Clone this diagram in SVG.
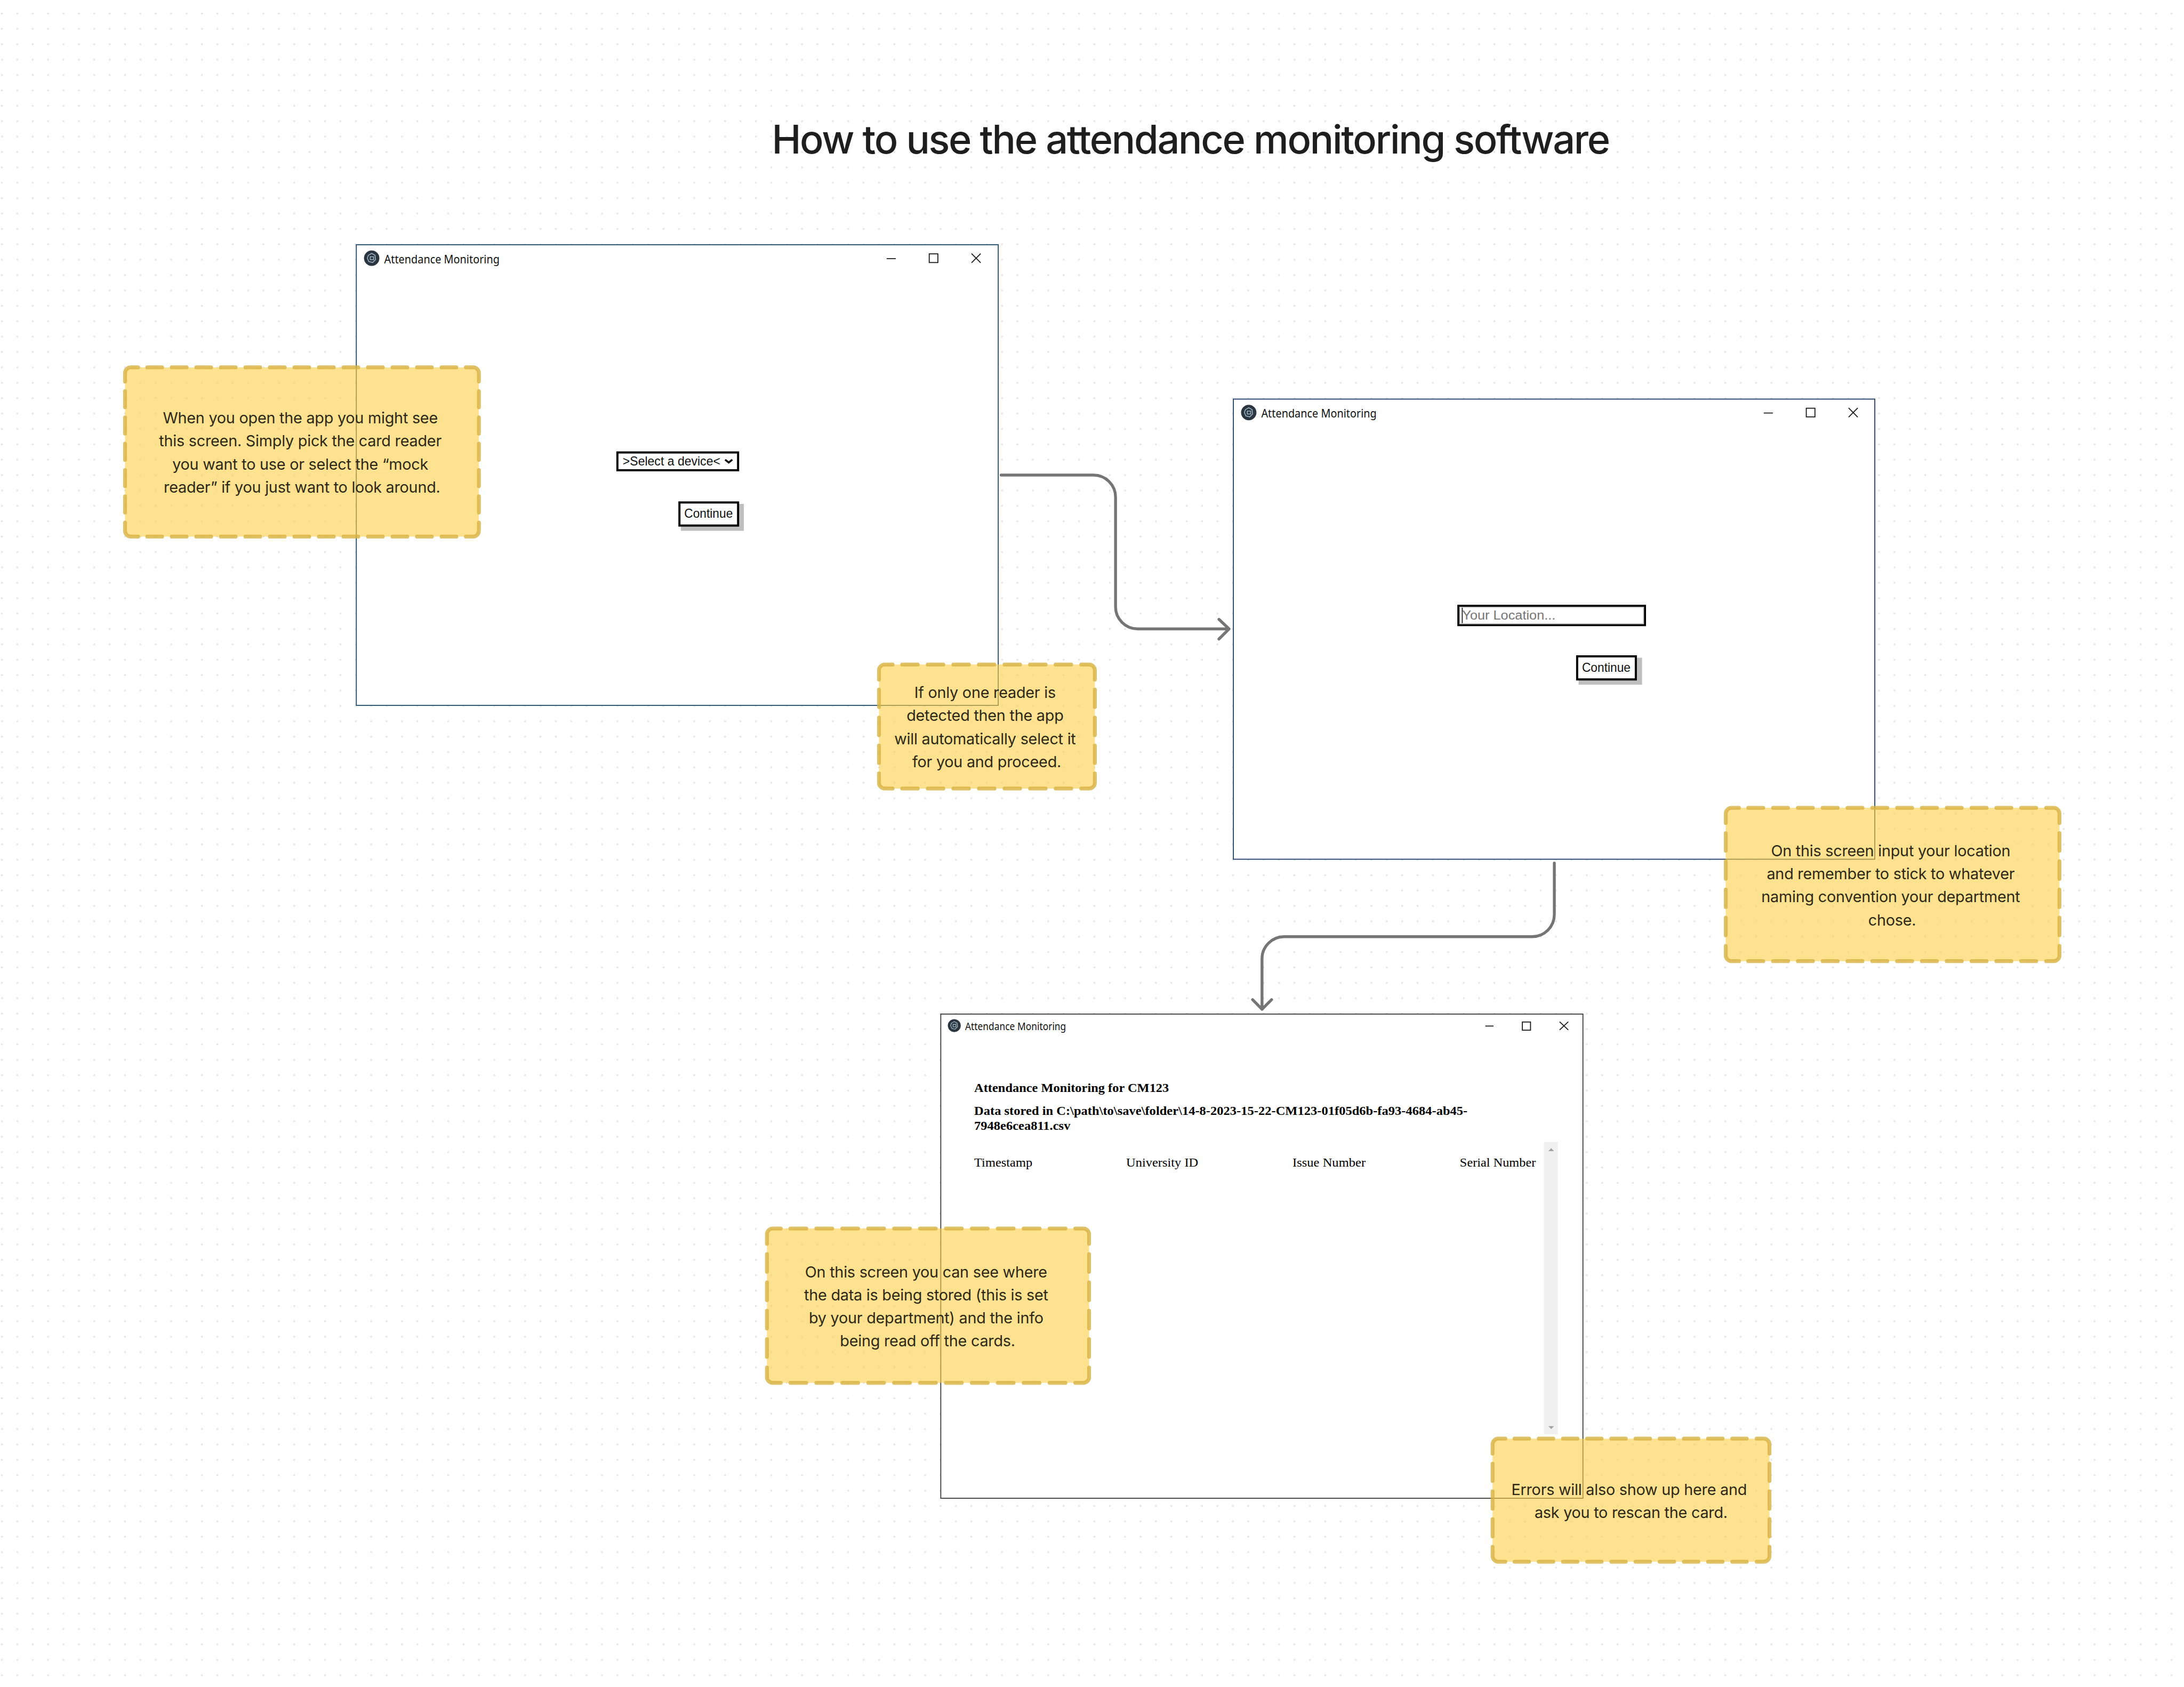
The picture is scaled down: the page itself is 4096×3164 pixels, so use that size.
<svg xmlns="http://www.w3.org/2000/svg" xmlns:xlink="http://www.w3.org/1999/xlink" width="4096" height="3164" viewBox="0 0 4096 3164">
<style>
.win{fill:#fff;stroke-width:2}
.w1{stroke:#1c4a6e}.w2{stroke:#1b3a68}.w3{stroke:#3a3a3a}
.ttl{font-family:"Noto Sans","Open Sans",sans-serif;font-size:24px;fill:#111}
.ctl{fill:none;stroke:#1a1a1a;stroke-width:2}
.box{fill:#fff;stroke:#000;stroke-width:4.4}
.sh{fill:#bfbfbf}
.ui{font-family:"Liberation Sans",Arial,sans-serif;font-size:26.7px;fill:#111}
.bd{font-family:"Liberation Serif","Times New Roman",serif;font-size:26.7px;font-weight:700;fill:#000}
.rg{font-family:"Liberation Serif","Times New Roman",serif;font-size:26.7px;fill:#000}
.nf{fill:#ffcf44;fill-opacity:.6;stroke:none}
.ns{fill:none;stroke:#d7b142;stroke-opacity:.8;stroke-width:8;stroke-linecap:round}
.nt{font-family:Inter,"Noto Sans",sans-serif;font-size:32px;letter-spacing:-.3px;fill:#2e2818;text-anchor:middle}
.cn{fill:none;stroke:#757575;stroke-width:6;stroke-linecap:round;stroke-linejoin:round}
.ttlm{font-family:Inter,"Noto Sans",sans-serif;font-size:82px;font-weight:500;fill:#1e1e1e}
</style>
<defs>
<pattern id="dots" patternUnits="userSpaceOnUse" width="32" height="32"><circle cx="4" cy="28" r="2.1" fill="#e6e6e6"/></pattern>
<g id="icon"><circle r="16" fill="#2b3540"/><path d="M-7-6 0-10 7-6 8 3 2 9-6 7-9 0ZM-3-3H4V3H-3Z" fill="none" stroke="#9db4bd" stroke-width="1.8"/></g>
<g id="ctrl"><path class="ctl" d="M1844,538H1863M2020.500,527.500 2039.500,546.500M2039.500,527.500 2020.500,546.500"/><rect class="ctl" x="1932.500" y="528" width="18" height="18"/></g>
</defs>
<g transform="scale(.9018)">
<rect width="4542" height="3508" fill="#fff"/>
<rect width="4542" height="3508" fill="url(#dots)"/>
<text class="ttlm" x="1605" y="319" id="title" textLength="1744">How to use the attendance monitoring software</text>

<g id="window-1">
<rect class="win w1" x="741" y="509" width="1335" height="958"/>
<use xlink:href="#icon" x="773" y="537"/>
<text class="ttl" x="799" y="547.500" textLength="240" lengthAdjust="spacingAndGlyphs">Attendance Monitoring</text>
<use xlink:href="#ctrl"/>
<rect class="box" x="1284" y="941" width="251" height="37"/>
<text class="ui" x="1295" y="968" textLength="203" lengthAdjust="spacingAndGlyphs">&gt;Select a device&lt;</text>
<path d="M1508,956 1515.500,962 1523,956" fill="none" stroke="#111" stroke-width="4"/>
<rect class="sh" x="1416" y="1048" width="131" height="56"/>
<rect class="box" x="1413" y="1045" width="122" height="48"/>
<text class="ui" x="1423" y="1077" textLength="101" lengthAdjust="spacingAndGlyphs">Continue</text>
</g>

<g id="window-2">
<rect class="win w2" x="2565" y="830" width="1334" height="957"/>
<use xlink:href="#icon" x="2597" y="858"/>
<text class="ttl" x="2623" y="868.500" textLength="240" lengthAdjust="spacingAndGlyphs">Attendance Monitoring</text>
<use xlink:href="#ctrl" x="1824" y="321"/>
<rect class="box" x="3033" y="1260" width="388" height="40"/>
<rect x="3036" y="1263" width="382" height="34" fill="none" stroke="#c8c8c8" stroke-width="2"/>
<text class="ui" x="3041" y="1289" style="fill:#757575" textLength="194" lengthAdjust="spacingAndGlyphs">Your Location...</text>
<path d="M3041,1264V1296" stroke="#222" stroke-width="2"/>
<rect class="sh" x="3283" y="1368" width="132" height="56"/>
<rect class="box" x="3280" y="1365" width="122" height="48"/>
<text class="ui" x="3290" y="1397" textLength="101" lengthAdjust="spacingAndGlyphs">Continue</text>
</g>

<g id="window-3">
<rect class="win w3" x="1956.500" y="2109" width="1335.500" height="1007"/>
<use xlink:href="#icon" transform="translate(1984.600,2133) scale(.84)"/>
<text class="ttl" x="2007" y="2142" style="font-size:22px" textLength="210" lengthAdjust="spacingAndGlyphs">Attendance Monitoring</text>
<path class="ctl" d="M3089,2134H3106M3243.500,2125 3261.500,2142M3261.500,2125 3243.500,2142"/>
<rect class="ctl" x="3166" y="2125.500" width="17" height="17"/>
<text class="bd" x="2026" y="2271" textLength="405" lengthAdjust="spacingAndGlyphs">Attendance Monitoring for CM123</text>
<text class="bd" x="2026" y="2319" textLength="1026" lengthAdjust="spacingAndGlyphs">Data stored in C:\path\to\save\folder\14-8-2023-15-22-CM123-01f05d6b-fa93-4684-ab45-</text>
<text class="bd" x="2026" y="2350" textLength="200" lengthAdjust="spacingAndGlyphs">7948e6cea811.csv</text>
<text class="rg" x="2026" y="2426" textLength="121" lengthAdjust="spacingAndGlyphs">Timestamp</text>
<text class="rg" x="2342" y="2426" textLength="150" lengthAdjust="spacingAndGlyphs">University ID</text>
<text class="rg" x="2688" y="2426" textLength="152" lengthAdjust="spacingAndGlyphs">Issue Number</text>
<text class="rg" x="3036" y="2426" textLength="158" lengthAdjust="spacingAndGlyphs">Serial Number</text>
<rect x="3211" y="2375" width="29" height="608" fill="#f0f0f0"/>
<path d="M3220,2394H3232L3226,2388Z" fill="#a3a3a3"/>
<path d="M3220,2966H3232L3226,2972Z" fill="#a3a3a3"/>
</g>

<g id="connectors">
<path class="cn" d="M2082,988H2274A46,46 0 0 1 2320,1034V1262A46,46 0 0 0 2366,1308H2556M2535,1288 2556,1308 2535,1329"/>
<path class="cn" d="M3232.500,1795V1902A46,46 0 0 1 3186.500,1948H2670.600A46,46 0 0 0 2624.600,1994V2099M2605,2079 2624.600,2099 2644.500,2079"/>
</g>

<g id="note-1">
<rect class="nf" x="260" y="764" width="736" height="352" rx="12"/>
<path class="ns" d="M260,793.300V776A12,12 0 0 1 272,764H287.100M968.900,764H984A12,12 0 0 1 996,776V793.300M996,1086.700V1104A12,12 0 0 1 984,1116H968.900M287.100,1116H272A12,12 0 0 1 260,1104V1086.700"/>
<path class="ns" stroke-dasharray="30.760 20.240" d="M306.300,764H949.700M306.300,1116H949.700"/>
<path class="ns" stroke-dasharray="33.600 21.100" d="M260,813.400V1066.600M996,813.400V1066.600"/>
<text class="nt" x="624.500" y="880.500">When you open the app you might see</text>
<text class="nt" x="624.500" y="928.500">this screen. Simply pick the card reader</text>
<text class="nt" x="624.500" y="976.500">you want to use or select the “mock</text>
<text class="nt" x="628" y="1024.500">reader” if you just want to look around.</text>
</g>

<g id="note-2">
<rect class="nf" x="1828" y="1382" width="449" height="258" rx="12"/>
<path class="ns" d="M1828,1413.400V1394A12,12 0 0 1 1840,1382H1856.400M2248.600,1382H2265A12,12 0 0 1 2277,1394V1413.400M2277,1608.600V1628A12,12 0 0 1 2265,1640H2248.600M1856.400,1640H1840A12,12 0 0 1 1828,1628V1608.600"/>
<path class="ns" stroke-dasharray="32.400 20.800" d="M1876.200,1382H2228.800M1876.200,1640H2228.800"/>
<path class="ns" stroke-dasharray="36.200 21.900" d="M1828,1434.300V1587.700M2277,1434.300V1587.700"/>
<text class="nt" x="2048.500" y="1451.500">If only one reader is</text>
<text class="nt" x="2048.500" y="1499.500">detected then the app</text>
<text class="nt" x="2048.500" y="1547.500">will automatically select it</text>
<text class="nt" x="2052" y="1595.500">for you and proceed.</text>
</g>

<g id="note-3">
<rect class="nf" x="3589" y="1680" width="694" height="319" rx="12"/>
<path class="ns" d="M3589,1711.700V1692A12,12 0 0 1 3601,1680H3616.500M4255.500,1680H4271A12,12 0 0 1 4283,1692V1711.700M4283,1967.300V1987A12,12 0 0 1 4271,1999H4255.500M3616.500,1999H3601A12,12 0 0 1 3589,1987V1967.300"/>
<path class="ns" stroke-dasharray="31.200 20.400" d="M3635.800,1680H4236.200M3635.800,1999H4236.200"/>
<path class="ns" stroke-dasharray="36.500 22.100" d="M3589,1732.700V1946.300M4283,1732.700V1946.300"/>
<text class="nt" x="3932" y="1780.500">On this screen input your location</text>
<text class="nt" x="3932" y="1828.500">and remember to stick to whatever</text>
<text class="nt" x="3932" y="1876.500">naming convention your department</text>
<text class="nt" x="3935" y="1924.500">chose.</text>
</g>

<g id="note-4">
<rect class="nf" x="1595" y="2555" width="670" height="321" rx="12"/>
<path class="ns" d="M1595,2586.900V2567A12,12 0 0 1 1607,2555H1623.800M2236.200,2555H2253A12,12 0 0 1 2265,2567V2586.900M2265,2844.100V2864A12,12 0 0 1 2253,2876H2236.200M1623.800,2876H1607A12,12 0 0 1 1595,2864V2844.100"/>
<path class="ns" stroke-dasharray="33 20.900" d="M1643.800,2555H2216.200M1643.800,2876H2216.200"/>
<path class="ns" stroke-dasharray="36.800 22.200" d="M1595,2608.100V2822.900M2265,2608.100V2822.900"/>
<text class="nt" x="1926" y="2656.500">On this screen you can see where</text>
<text class="nt" x="1926" y="2704.500">the data is being stored (this is set</text>
<text class="nt" x="1926" y="2752.500">by your department) and the info</text>
<text class="nt" x="1929" y="2800.500">being read off the cards.</text>
</g>

<g id="note-5">
<rect class="nf" x="3104" y="2992" width="576" height="256" rx="12"/>
<path class="ns" d="M3104,3023.100V3004A12,12 0 0 1 3116,2992H3130.700M3653.300,2992H3668A12,12 0 0 1 3680,3004V3023.100M3680,3216.900V3236A12,12 0 0 1 3668,3248H3653.300M3130.700,3248H3116A12,12 0 0 1 3104,3236V3216.900"/>
<path class="ns" stroke-dasharray="30.200 20.100" d="M3149.800,2992H3634.200M3149.800,3248H3634.200"/>
<path class="ns" stroke-dasharray="35.900 21.800" d="M3104,3044V3196M3680,3044V3196"/>
<text class="nt" x="3388" y="3109.500">Errors will also show up here and</text>
<text class="nt" x="3392" y="3157.500">ask you to rescan the card.</text>
</g>
</g>
</svg>
